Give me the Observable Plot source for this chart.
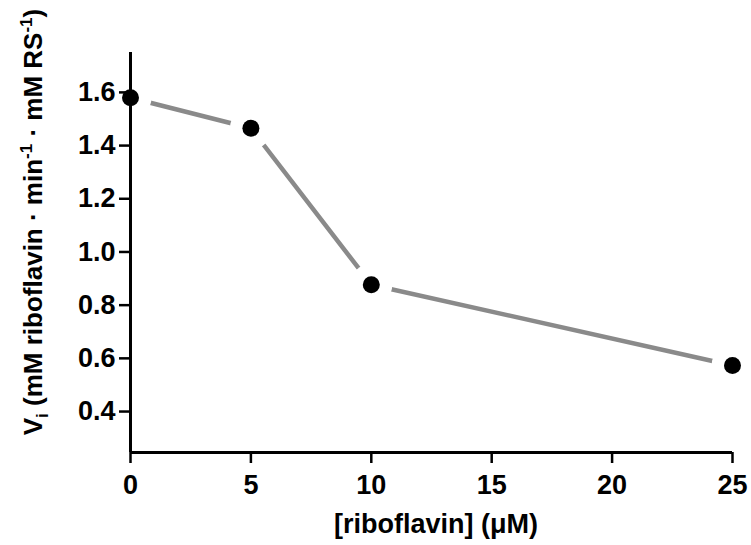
<!DOCTYPE html>
<html>
<head>
<meta charset="utf-8">
<script src="https://cdn.jsdelivr.net/npm/d3@7"></script>
<script src="https://cdn.jsdelivr.net/npm/@observablehq/plot@0.6"></script>
<style>
  html, body { margin: 0; padding: 0; background: #fff; }
  #chart { width: 751px; height: 545px; }
</style>
</head>
<body>
<div id="chart"></div>
<script>
// Data
const riboflavin = [0, 5, 10, 25];             // µM
const rate = [1.58, 1.465, 0.877, 0.573];      // Vi
const xTicks = [0, 5, 10, 15, 20, 25];
const yTicks = [0.4, 0.6, 0.8, 1.0, 1.2, 1.4, 1.6];
const xDomain = [0, 25];
const yDomain = [0.246, 1.75];
const xTitle = "[riboflavin] (\u03BCM)";

const data = riboflavin.map((x, i) => ({x, y: rate[i]}));

const font = "'Liberation Sans', Arial, sans-serif";

const plot = Plot.plot({
  width: 751,
  height: 545,
  marginLeft: 130,
  marginRight: 19,
  marginTop: 52,
  marginBottom: 93,
  style: {fontFamily: font, fontWeight: "bold", background: "#fff", color: "#000"},
  x: {domain: xDomain},
  y: {domain: yDomain},
  marks: [
    Plot.line(data, {x: "x", y: "y", stroke: "#8a8a8a", strokeWidth: 4.5}),
    Plot.dot(data, {x: "x", y: "y", r: 21, fill: "#fff", stroke: "none"}),
    Plot.ruleX([xDomain[0]], {stroke: "#000", strokeWidth: 3}),
    Plot.ruleY([yDomain[0]], {stroke: "#000", strokeWidth: 3}),
    Plot.axisY({ticks: yTicks, tickFormat: d3.format(".1f"), tickSize: 11, tickPadding: 4,
      strokeWidth: 2.5, fontSize: 27, label: null}),
    Plot.axisX({ticks: xTicks, tickFormat: d3.format("d"), tickSize: 11, tickPadding: 11,
      strokeWidth: 2.5, fontSize: 27, label: null}),
    Plot.dot(data, {x: "x", y: "y", r: 8.5, fill: "#000", stroke: "none"})
  ]
});

const svg = d3.select(plot);

// X axis title
svg.append("text")
  .attr("x", 436)
  .attr("y", 533)
  .attr("text-anchor", "middle")
  .attr("font-family", font)
  .attr("font-weight", "bold")
  .attr("font-size", 27)
  .attr("fill", "#000")
  .text(xTitle);

// Y axis title with subscript / superscripts
const yt = svg.append("text")
  .attr("transform", "translate(42,222) rotate(-90)")
  .attr("text-anchor", "middle")
  .attr("font-family", font)
  .attr("font-weight", "bold")
  .attr("font-size", 26)
  .attr("fill", "#000");
yt.append("tspan").text("V");
yt.append("tspan").attr("font-size", 17).attr("dy", 6).text("i");
yt.append("tspan").attr("dy", -6).text(" (mM riboflavin \u00B7 min");
yt.append("tspan").attr("font-size", 17).attr("dy", -10).text("-1");
yt.append("tspan").attr("dy", 10).text(" \u00B7 mM RS");
yt.append("tspan").attr("font-size", 17).attr("dy", -10).text("-1");
yt.append("tspan").attr("dy", 10).text(")");

document.getElementById("chart").appendChild(plot);
</script>
</body>
</html>
